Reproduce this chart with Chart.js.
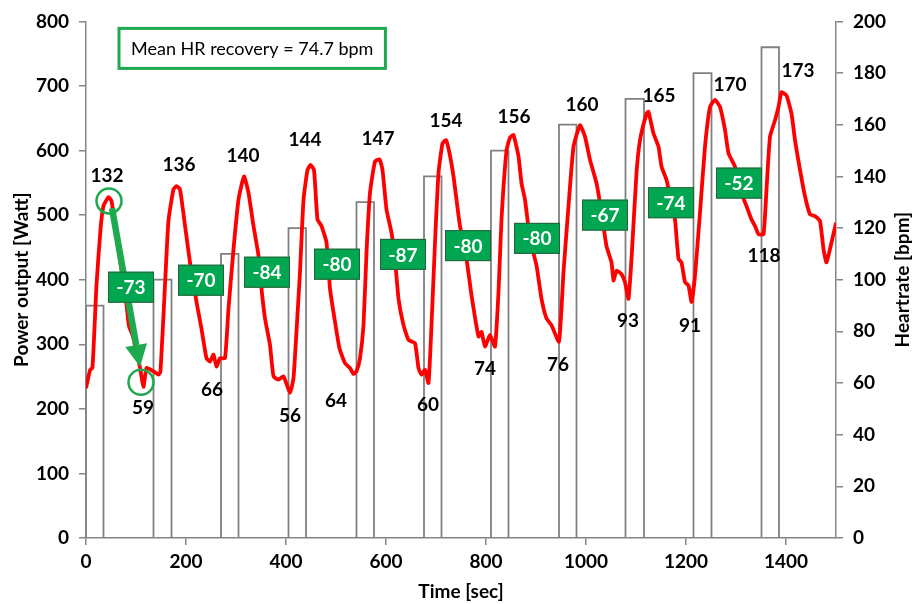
<!DOCTYPE html>
<html><head><meta charset="utf-8">
<script src="https://cdn.jsdelivr.net/npm/chart.js@4.4.0/dist/chart.umd.min.js"></script>
<style>html,body{margin:0;padding:0;background:#fff}#wrap{width:912px;height:604px}</style>
</head><body><div id="wrap"><canvas id="c" width="912" height="604"></canvas></div>
<script>
// ---- Heart rate series (time in sec, bpm) ----
const hrTime = [0,8,13,21,29,35,45,51,58,66,74,80,86,94,101,108,115,121,131,145,149,158,165,175,181,188,198,208,221,231,241,248,255,261,268,278,285,295,305,316,325,335,345,351,358,368,375,385,395,408,415,421,428,435,443,449,456,463,471,481,488,498,507,518,528,535,541,548,555,561,568,578,587,593,601,611,618,625,635,645,658,665,671,678,685,691,698,705,713,720,727,735,741,748,761,771,785,791,798,808,818,825,831,841,848,855,865,871,878,888,901,911,921,931,946,955,965,975,988,998,1008,1021,1031,1041,1051,1055,1061,1071,1078,1085,1091,1101,1108,1121,1125,1135,1145,1151,1161,1171,1178,1185,1191,1198,1205,1211,1218,1228,1238,1248,1258,1268,1278,1285,1298,1308,1321,1331,1338,1345,1355,1361,1368,1378,1385,1391,1401,1411,1418,1428,1438,1448,1458,1468,1475,1481,1491,1500];
const hrValue = [58,65,66,98,119.5,128.6,132,130.5,121,110,100,92,82,78,72,66,58.5,65.8,65,63.3,64.5,98,123,135,136.2,135,121,106.7,91.4,81,69.6,68.3,71,66.4,69.6,69.6,88.8,111.8,131,140,133.6,120.8,109.3,96.5,85,74.7,62.6,61.3,62.6,56.2,62,80,103,131,142.5,144.4,142.5,123.3,120.8,114.4,96.5,83.7,73.4,67.7,65.8,63.5,64.5,69.6,82.4,110.5,133.6,145.8,146.6,142.5,127.2,118.2,108,92.6,82.4,76.7,75.4,65.8,63.2,65.1,60,82.4,114.4,141.3,152.8,154,149,140,131,120.8,108,94,78,79.8,74.1,78.6,74.1,95.2,123.3,150,155,156,147.7,137.4,131,115.7,105.5,92.6,85,82.4,76,103,128.5,151.5,159.8,155.4,146.4,137.4,126,113,106.7,99.7,103.5,102.2,99,92.6,108,141.3,154,164.3,165,156.6,151.5,143.8,138.7,129.8,123.3,108,106.7,99,97.8,91.4,101.6,126,151.5,166.9,169.6,166.9,158,149,143.8,134.9,128.5,123.3,120.8,117.6,117.6,134.9,155.4,161.7,166.9,172.6,171.3,164.3,154,142.5,132.3,125.3,124.6,122.7,111.8,106.7,114.4,122];

// ---- Power output steps (sec, Watt) ----
const powerStart = [0,135,270,405,541,676,810,946,1079,1215,1351];
const powerEnd   = [35,171,305,440,576,711,845,981,1116,1251,1386];
const powerWatt  = [360,400,440,480,520,560,600,640,680,720,760];
const powerTailEnd = 1490;

// ---- Peak / trough heart rates ----
const peakHR   = [132,136,140,144,147,154,156,160,165,170,173];
const troughHR = [59,66,56,64,60,74,76,93,91,118];

// ---- Annotation anchors (data units: sec, bpm) ----
const peakLabelT  = [42,186,314,438,584,720,856,992,1146,1288,1424];
const peakLabelHR = [140.1,144.3,147.8,154,154.7,161.6,163,167.8,171.2,175.4,180.8];
const troughLabelT  = [114,252,408,500,684,798,944,1084,1208,1356];
const troughLabelHR = [50.3,57.2,47.2,53,51.4,65.3,67.2,84.1,82.1,109.4];
const recoveryBoxT  = [90,230,362,502,634,764,902,1038,1170,1306];
const recoveryBoxHR = [97.1,99.8,102.9,106,109.8,113.2,116,125,129.8,137.4];
const circleT  = [46,110];
const circleHR = [130.5,60.3];
const arrowFrom = [52,127.7];
const arrowTo   = [108,66.3];

// ---- Axis titles ----
const xTitle = 'Time [sec]';
const yTitle = 'Power output [Watt]';
const y1Title = 'Heartrate [bpm]';

const recovery = peakHR.slice(0, troughHR.length).map((p,i)=>p-troughHR[i]);
const meanRecovery = recovery.reduce((a,b)=>a+b,0)/recovery.length;
const meanText = 'Mean HR recovery = ' + meanRecovery.toFixed(1) + ' bpm';

const hrPoints = hrTime.map((t,i)=>({x:t,y:hrValue[i]}));
const powerPoints = [];
powerStart.forEach((s,i)=>{
  powerPoints.push({x:s,y:0},{x:s,y:powerWatt[i]},{x:powerEnd[i],y:powerWatt[i]},{x:powerEnd[i],y:0});
});
powerPoints.push({x:powerTailEnd,y:0});

const GREEN = '#1daa4f';
const BOXGREEN = '#00a650';
const FONT = 'Lato, "Open Sans", sans-serif';

const annot = {
  id:'annot',
  afterDatasetsDraw(chart){
    const ctx = chart.ctx, xs = chart.scales.x, ys = chart.scales.y1;
    const px = t=>xs.getPixelForValue(t), py = v=>ys.getPixelForValue(v);
    ctx.save();
    // arrow
    const x0=px(arrowFrom[0]), y0=py(arrowFrom[1]), x1=px(arrowTo[0]), y1=py(arrowTo[1]);
    const ang = Math.atan2(y1-y0, x1-x0);
    const headLen = 22, headW = 11;
    const bx = x1 - headLen*Math.cos(ang), by = y1 - headLen*Math.sin(ang);
    ctx.strokeStyle = GREEN; ctx.lineWidth = 6.5; ctx.lineCap='butt';
    ctx.beginPath(); ctx.moveTo(x0,y0); ctx.lineTo(bx,by); ctx.stroke();
    ctx.fillStyle = GREEN;
    ctx.beginPath();
    ctx.moveTo(x1,y1);
    ctx.lineTo(bx + headW*Math.sin(ang), by - headW*Math.cos(ang));
    ctx.lineTo(bx - headW*Math.sin(ang), by + headW*Math.cos(ang));
    ctx.closePath(); ctx.fill();
    // circles
    ctx.lineWidth = 2.5; ctx.strokeStyle = GREEN;
    circleT.forEach((t,i)=>{ ctx.beginPath(); ctx.arc(px(t),py(circleHR[i]),12.5,0,Math.PI*2); ctx.stroke(); });
    // recovery boxes
    ctx.font = 'bold 19px ' + FONT;
    ctx.textAlign='center'; ctx.textBaseline='middle';
    recoveryBoxT.forEach((t,i)=>{
      const cx=px(t), cy=py(recoveryBoxHR[i]), w=46, h=31;
      ctx.fillStyle = BOXGREEN; ctx.fillRect(cx-w/2,cy-h/2,w,h);
      ctx.strokeStyle = '#2b5e3b'; ctx.lineWidth=1; ctx.strokeRect(cx-w/2+0.5,cy-h/2+0.5,w-1,h-1);
      ctx.fillStyle = '#fff'; ctx.fillText('-' + recovery[i], cx, cy+1);
    });
    // peak & trough labels
    ctx.fillStyle = '#000';
    ctx.font = 'bold 19px ' + FONT;
    peakLabelT.forEach((t,i)=> ctx.fillText(String(peakHR[i]), px(t), py(peakLabelHR[i])));
    troughLabelT.forEach((t,i)=> ctx.fillText(String(troughHR[i]), px(t), py(troughLabelHR[i])));
    // mean box
    const ca = chart.chartArea;
    ctx.font = '18px ' + FONT;
    const tw = ctx.measureText(meanText).width;
    const bxl = ca.left + 33, byt = ca.top + 7, bw = tw + 24, bh = 40;
    ctx.fillStyle='#fff'; ctx.fillRect(bxl,byt,bw,bh);
    ctx.strokeStyle = GREEN; ctx.lineWidth = 3; ctx.strokeRect(bxl,byt,bw,bh);
    ctx.fillStyle='#000'; ctx.textAlign='left';
    ctx.fillText(meanText, bxl+12, byt+bh/2+1);
    ctx.restore();
  },
  afterDraw(chart){
    const ctx = chart.ctx, ca = chart.chartArea;
    ctx.save();
    ctx.fillStyle='#000'; ctx.font='bold 19px ' + FONT;
    ctx.textAlign='center'; ctx.textBaseline='middle';
    ctx.fillText(xTitle, (ca.left+ca.right)/2, 592);
    const cy = (ca.top+ca.bottom)/2;
    ctx.translate(22, cy); ctx.rotate(-Math.PI/2); ctx.fillText(yTitle,0,0);
    ctx.setTransform(1,0,0,1,0,0);
    ctx.translate(903, cy); ctx.rotate(-Math.PI/2); ctx.fillText(y1Title,0,0);
    ctx.restore();
  }
};

const tickFont = {family:FONT, weight:'bold', size:19};
const GRAY = '#868686';
const plainTick = v => String(v);
new Chart(document.getElementById('c'), {
  type:'line',
  data:{datasets:[
    {label:'Heartrate', data:hrPoints, yAxisID:'y1', borderColor:'#ff0000', borderWidth:3.8, pointRadius:0, tension:0.15, fill:false, order:0, borderJoinStyle:'round'},
    {label:'Power', data:powerPoints, yAxisID:'y', borderColor:'#808080', borderWidth:1.8, pointRadius:0, tension:0, fill:false, order:1}
  ]},
  options:{
    responsive:false, animation:false, devicePixelRatio:1,
    layout:{padding:{top:17,left:0,right:0,bottom:0}},
    plugins:{legend:{display:false}, tooltip:{enabled:false}},
    scales:{
      x:{type:'linear', min:0, max:1500,
        ticks:{stepSize:200, includeBounds:false, color:'#000', font:tickFont, padding:5, maxRotation:0, callback:plainTick},
        grid:{display:true, drawOnChartArea:false, drawTicks:true, tickLength:7, color:GRAY, lineWidth:1.5},
        border:{color:GRAY, width:1.5},
        afterFit(s){ s.height = 66; }},
      y:{position:'left', min:0, max:800,
        ticks:{stepSize:100, color:'#000', font:tickFont, padding:10, callback:plainTick},
        grid:{display:true, drawOnChartArea:false, drawTicks:true, tickLength:7, color:GRAY, lineWidth:1.5},
        border:{color:GRAY, width:1.5},
        afterFit(s){ s.width = 86; }},
      y1:{position:'right', min:0, max:200,
        ticks:{stepSize:20, color:'#000', font:tickFont, padding:10, callback:plainTick},
        grid:{display:true, drawOnChartArea:false, drawTicks:true, tickLength:7, color:GRAY, lineWidth:1.5},
        border:{color:GRAY, width:1.5},
        afterFit(s){ s.width = 76; }}
    }
  },
  plugins:[annot]
});
</script></body></html>
